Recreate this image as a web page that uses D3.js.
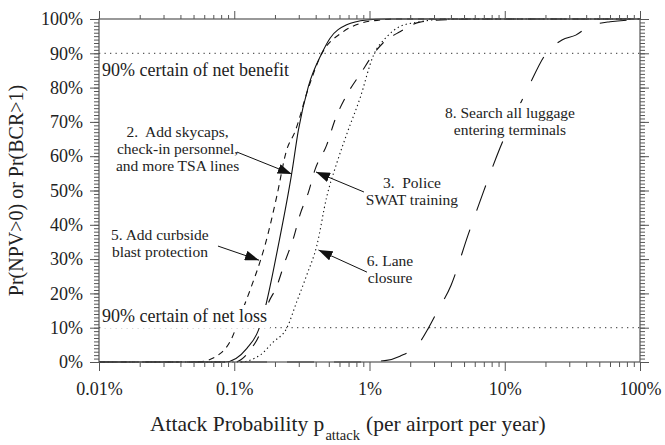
<!DOCTYPE html>
<html>
<head>
<meta charset="utf-8">
<script src="https://cdn.jsdelivr.net/npm/d3@7"></script>
<style>
  body { margin: 0; background: #fff; }
  svg text { font-family: "Liberation Serif", "Times New Roman", Times, "DejaVu Serif", serif; fill: #222; }
  svg text.note { white-space: pre; }
</style>
</head>
<body>
<svg id="chart" width="665" height="445"></svg>
<script>
// x ticks (attack probability, log scale) and y ticks
var xTickValues = [0.0001, 0.001, 0.01, 0.1, 1];
var xTickLabels = ["0.01%", "0.1%", "1%", "10%", "100%"];
var yTickValues = [0, 0.1, 0.2, 0.3, 0.4, 0.5, 0.6, 0.7, 0.8, 0.9, 1];
var yTickLabels = ["0%", "10%", "20%", "30%", "40%", "50%", "60%", "70%", "80%", "90%", "100%"];

// curves: [p_attack, Pr]
var skycaps = [ // 2. solid
  [0.0001, 0], [0.00085, 0], [0.00124, 0.04], [0.00151, 0.093], [0.00169, 0.157],
  [0.00212, 0.341], [0.00266, 0.55], [0.00298, 0.676], [0.00353, 0.803],
  [0.00444, 0.9], [0.00511, 0.944], [0.00678, 0.983], [0.00953, 0.997], [0.013, 1], [1, 1]
];
var curbside = [ // 5. short dash
  [0.0001, 0], [0.00047, 0], [0.00056, 0.001], [0.00079, 0.025], [0.00093, 0.059],
  [0.00114, 0.147], [0.00135, 0.224], [0.00155, 0.292], [0.00169, 0.341],
  [0.00206, 0.482], [0.00244, 0.618], [0.00281, 0.671], [0.00353, 0.798],
  [0.00431, 0.889], [0.0064, 0.963], [0.00851, 0.987], [0.012, 0.997], [0.016, 1], [1, 1]
];
var swat = [ // 3. long dash
  [0.0001, 0], [0.00101, 0], [0.00131, 0.035], [0.0016, 0.1], [0.00175, 0.161],
  [0.00206, 0.22], [0.00237, 0.292], [0.00274, 0.361], [0.00306, 0.429],
  [0.00353, 0.494], [0.00395, 0.56], [0.00483, 0.633], [0.00556, 0.706],
  [0.00678, 0.778], [0.00875, 0.846], [0.01079, 0.9], [0.01259, 0.93],
  [0.01679, 0.963], [0.0236, 0.991], [0.0428, 0.999], [0.06, 1], [1, 1]
];
var laneClosure = [ // 6. dotted
  [0.0001, 0], [0.0011, 0], [0.00155, 0.02], [0.00195, 0.059], [0.00244, 0.098],
  [0.0029, 0.176], [0.00344, 0.254], [0.00407, 0.338], [0.00483, 0.482],
  [0.00572, 0.579], [0.00693, 0.674], [0.00851, 0.769], [0.01067, 0.893],
  [0.0134, 0.948], [0.01679, 0.978], [0.0236, 0.992], [0.0332, 0.999], [0.05, 1], [1, 1]
];
var luggage = [ // 8. very long dash
  [0.0001, 0], [0.0085, 0], [0.013, 0.004], [0.0168, 0.017], [0.0236, 0.058],
  [0.0272, 0.098], [0.0316, 0.146], [0.0401, 0.224], [0.0535, 0.37],
  [0.0703, 0.501], [0.0922, 0.624], [0.1462, 0.793], [0.1986, 0.895],
  [0.265, 0.939], [0.335, 0.953], [0.42, 0.978], [0.6, 0.992], [1, 0.998]
];

// annotation text: [p, Pr at first baseline, lines]
var labels = [
  { p: 0.000381, v: 0.656, lines: ["2.  Add skycaps,", "check-in personnel,", "and more TSA lines"] },
  { p: 0.0206, v: 0.507, lines: ["3.  Police", "SWAT training"] },
  { p: 0.000282, v: 0.356, lines: ["5. Add curbside", "blast protection"] },
  { p: 0.01418, v: 0.280, lines: ["6. Lane", "closure"] },
  { p: 0.1093, v: 0.711, lines: ["8. Search all luggage", "entering terminals"] }
];
// arrows: from [p, Pr] to tip [p, Pr]
var arrows = [
  [[0.001048, 0.612], [0.00266, 0.548]],
  [[0.0091, 0.4956], [0.004022, 0.554]],
  [[0.000758, 0.338], [0.001524, 0.297]],
  [[0.00958, 0.262], [0.004196, 0.3265]]
];
var certainty = [
  { v: 0.9, text: "90% certain of net benefit", tv: 0.834 },
  { v: 0.1, text: "90% certain of net loss", tv: 0.1166 }
];

var margin = { left: 99, right: 25, top: 19, bottom: 83 };
var width = 665, height = 445;
var svg = d3.select("#chart");

var x = d3.scaleLog().domain([0.0001, 1]).range([margin.left, width - margin.right]);
var y = d3.scaleLinear().domain([0, 1]).range([height - margin.bottom, margin.top]);

var line = d3.line()
  .x(function (d) { return x(d[0]); })
  .y(function (d) { return y(d[1]); })
  .curve(d3.curveMonotoneX);

// reference lines at 90% / 10%
svg.selectAll("line.ref").data(certainty).enter().append("line")
  .attr("class", "ref")
  .attr("x1", x(0.0001)).attr("x2", x(1))
  .attr("y1", function (d) { return y(d.v); })
  .attr("y2", function (d) { return y(d.v); })
  .attr("stroke", "#333").attr("stroke-width", 1)
  .attr("stroke-dasharray", "1.3,4.2");

var series = [
  { data: skycaps, dash: null },
  { data: curbside, dash: "6,5" },
  { data: swat, dash: "11,12" },
  { data: laneClosure, dash: "1.3,3" },
  { data: luggage, dash: "27,20" }
];
svg.selectAll("path.curve").data(series).enter().append("path")
  .attr("class", "curve")
  .attr("d", function (d) { return line(d.data); })
  .attr("fill", "none")
  .attr("stroke", "#111")
  .attr("stroke-width", 1.1)
  .attr("stroke-dasharray", function (d) { return d.dash; });

// annotation labels with white boxes behind them (they hide the curves)
labels.forEach(function (l) {
  var g = svg.append("g");
  var t = g.append("text")
    .attr("class", "note")
    .attr("text-anchor", "middle")
    .attr("font-size", 15.5)
    .attr("x", x(l.p)).attr("y", y(l.v));
  l.lines.forEach(function (s, i) {
    t.append("tspan").attr("x", x(l.p)).attr("dy", i === 0 ? 0 : 17).text(s);
  });
  var bb = t.node().getBBox();
  g.insert("rect", "text")
    .attr("x", bb.x - 1).attr("y", bb.y - 1)
    .attr("width", bb.width + 2).attr("height", bb.height + 2)
    .attr("fill", "#fff");
});

certainty.forEach(function (c) {
  var g = svg.append("g");
  var t = g.append("text")
    .attr("x", x(0.0001) + 3).attr("y", y(c.tv))
    .attr("font-size", 18)
    .text(c.text);
  var bb = t.node().getBBox();
  g.insert("rect", "text")
    .attr("x", bb.x).attr("y", bb.y - 1)
    .attr("width", bb.width + 3).attr("height", bb.height + 3)
    .attr("fill", "#fff");
});

// arrows
svg.append("defs").append("marker")
  .attr("id", "head")
  .attr("viewBox", "0 0 14 10")
  .attr("refX", 14).attr("refY", 5)
  .attr("markerWidth", 14).attr("markerHeight", 10)
  .attr("markerUnits", "userSpaceOnUse")
  .attr("orient", "auto")
  .append("path").attr("d", "M0,0 L14,5 L0,10 Z").attr("fill", "#111");

svg.selectAll("line.arrow").data(arrows).enter().append("line")
  .attr("class", "arrow")
  .attr("x1", function (d) { return x(d[0][0]); })
  .attr("y1", function (d) { return y(d[0][1]); })
  .attr("x2", function (d) { return x(d[1][0]); })
  .attr("y2", function (d) { return y(d[1][1]); })
  .attr("stroke", "#111").attr("stroke-width", 1)
  .attr("marker-end", "url(#head)");

// axes: major + minor ticks on all four sides
var minorX = x.ticks().filter(function (v) { return xTickValues.indexOf(v) < 0; });
var minorY = d3.range(0, 101).map(function (i) { return i / 100; });

function styleAxis(g) {
  g.attr("font-family", null);
  g.select(".domain").remove();
  g.selectAll(".tick line").attr("stroke", "#555");
}
var plotBottom = y(0), plotTop = y(1), plotLeft = x(0.0001), plotRight = x(1);

// bottom
svg.append("g").attr("transform", "translate(0," + plotBottom + ")")
  .call(d3.axisBottom(x).tickValues(minorX).tickSize(5).tickFormat(""))
  .call(styleAxis);
svg.append("g").attr("transform", "translate(0," + plotBottom + ")")
  .call(d3.axisBottom(x).tickValues(xTickValues).tickSize(9)
    .tickFormat(function (d, i) { return xTickLabels[i]; }))
  .call(styleAxis)
  .call(function (g) {
    g.selectAll("text").attr("font-size", 18).attr("fill", "#222")
      .attr("dy", "0.71em").attr("y", 20);
  });
// top
svg.append("g").attr("transform", "translate(0," + plotTop + ")")
  .call(d3.axisTop(x).tickValues(minorX).tickSize(4).tickFormat(""))
  .call(styleAxis);
svg.append("g").attr("transform", "translate(0," + plotTop + ")")
  .call(d3.axisTop(x).tickValues(xTickValues).tickSize(8).tickFormat(""))
  .call(styleAxis);
// left
svg.append("g").attr("transform", "translate(" + plotLeft + ",0)")
  .call(d3.axisLeft(y).tickValues(minorY).tickSize(5).tickFormat(""))
  .call(styleAxis);
svg.append("g").attr("transform", "translate(" + plotLeft + ",0)")
  .call(d3.axisLeft(y).tickValues(yTickValues).tickSize(9)
    .tickFormat(function (d, i) { return yTickLabels[i]; }))
  .call(styleAxis)
  .call(function (g) {
    g.selectAll("text").attr("font-size", 18).attr("fill", "#222").attr("x", -16);
  });
// right
svg.append("g").attr("transform", "translate(" + plotRight + ",0)")
  .call(d3.axisRight(y).tickValues(minorY).tickSize(5).tickFormat(""))
  .call(styleAxis);
svg.append("g").attr("transform", "translate(" + plotRight + ",0)")
  .call(d3.axisRight(y).tickValues(yTickValues).tickSize(9).tickFormat(""))
  .call(styleAxis);

// frame lines
svg.append("rect")
  .attr("x", plotLeft).attr("y", plotTop)
  .attr("width", plotRight - plotLeft).attr("height", plotBottom - plotTop)
  .attr("fill", "none").attr("stroke", "#555").attr("stroke-width", 1.2);

// axis titles
var xt = svg.append("text")
  .attr("x", 150).attr("y", 431)
  .attr("font-size", 21.5);
xt.append("tspan").text("Attack Probability p");
xt.append("tspan").attr("font-size", 14.5).attr("dy", 9).attr("dx", 1).text("attack");
xt.append("tspan").attr("dy", -9).attr("dx", 6).text("(per airport per year)");

svg.append("text")
  .attr("transform", "translate(23," + ((plotTop + plotBottom) / 2) + ") rotate(-90)")
  .attr("text-anchor", "middle")
  .attr("font-size", 20)
  .text("Pr(NPV>0) or Pr(BCR>1)");
</script>
</body>
</html>
